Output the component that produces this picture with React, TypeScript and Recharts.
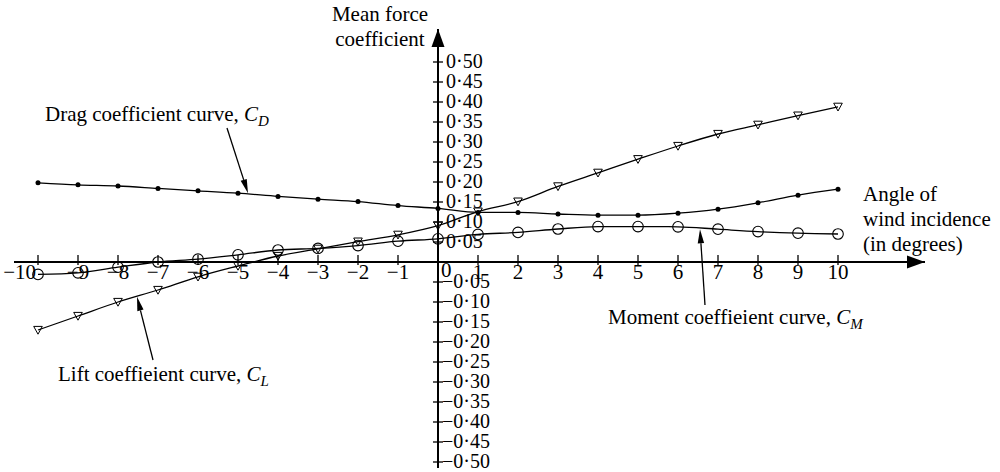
import React from 'react';
import { LineChart, Line, XAxis, YAxis, ReferenceLine, ReferenceDot } from 'recharts';

// angle of wind incidence, degrees
const angles = [-10, -9, -8, -7, -6, -5, -4, -3, -2, -1, 0, 1, 2, 3, 4, 5, 6, 7, 8, 9, 10];

// mean force coefficients at each angle
const dragCoef = [0.198, 0.193, 0.19, 0.184, 0.178, 0.172, 0.164, 0.157, 0.151, 0.141, 0.134, 0.124, 0.124, 0.12, 0.117, 0.117, 0.122, 0.132, 0.148, 0.167, 0.182];
const liftCoef = [-0.17, -0.135, -0.1, -0.07, -0.037, -0.01, 0.015, 0.033, 0.051, 0.068, 0.091, 0.126, 0.151, 0.189, 0.223, 0.257, 0.29, 0.32, 0.343, 0.366, 0.388];
const momentCoef = [-0.031, -0.027, -0.013, 0, 0.007, 0.018, 0.03, 0.034, 0.041, 0.052, 0.058, 0.069, 0.074, 0.0825, 0.0885, 0.0885, 0.088, 0.082, 0.076, 0.072, 0.07];

const xTicks = [-10, -9, -8, -7, -6, -5, -4, -3, -2, -1, 1, 2, 3, 4, 5, 6, 7, 8, 9, 10];
const xTickLabels = ['\u221210', '\u22129', '\u22128', '\u22127', '\u22126', '\u22125', '\u22124', '\u22123', '\u22122', '\u22121', '1', '2', '3', '4', '5', '6', '7', '8', '9', '10'];
const yTicks = [0.5, 0.45, 0.4, 0.35, 0.3, 0.25, 0.2, 0.15, 0.1, 0.05, -0.05, -0.1, -0.15, -0.2, -0.25, -0.3, -0.35, -0.4, -0.45, -0.5];
const yTickLabels = ['0·50', '0·45', '0·40', '0·35', '0·30', '0·25', '0·20', '0·15', '0·10', '0·05', '\u22120·05', '\u22120·10', '\u22120·15', '\u22120·20', '\u22120·25', '\u22120·30', '\u22120·35', '\u22120·40', '\u22120·45', '\u22120·50'];

const X_DOMAIN: [number, number] = [-10.6, 12.175];
const Y_DOMAIN: [number, number] = [-0.515, 0.5825];

const FONT = '"Liberation Serif", "Times New Roman", serif';
const FS = 21;
const TICK_FS = 20;

const data = angles.map((a, i) => ({
  angle: a,
  drag: dragCoef[i],
  lift: liftCoef[i],
  moment: momentCoef[i],
}));

const DragDot = (p: any) => <circle key={`d-${p.index}`} cx={p.cx} cy={p.cy} r={2.5} fill="#000" />;
const MomentDot = (p: any) => (
  <circle key={`m-${p.index}`} cx={p.cx} cy={p.cy} r={5.3} fill="none" stroke="#000" strokeWidth={1.1} />
);
const LiftDot = (p: any) => (
  <polygon
    key={`l-${p.index}`}
    points={`${p.cx - 4.3},${p.cy - 3.6} ${p.cx + 4.3},${p.cy - 3.6} ${p.cx},${p.cy + 4.2}`}
    fill="none"
    stroke="#000"
    strokeWidth={1}
  />
);

// leader line with a narrow filled head at the second point
const ArrowLine = (props: any) => {
  const { x1, y1, x2, y2 } = props;
  const ang = Math.atan2(y2 - y1, x2 - x1);
  const len = 14;
  const half = 3.2;
  const bx = x2 - len * Math.cos(ang);
  const by = y2 - len * Math.sin(ang);
  const px = -Math.sin(ang) * half;
  const py = Math.cos(ang) * half;
  return (
    <g>
      <line x1={x1} y1={y1} x2={bx} y2={by} stroke="#000" strokeWidth={1.3} />
      <polygon points={`${x2},${y2} ${bx + px},${by + py} ${bx - px},${by - py}`} fill="#000" />
    </g>
  );
};

const TextAt = (text: React.ReactNode, anchor: 'start' | 'middle' | 'end' = 'start') => (p: any) => (
  <text x={p.cx} y={p.cy} textAnchor={anchor} fontFamily={FONT} fontSize={FS} fill="#000">
    {text}
  </text>
);

const coeffName = (letter: string) => [
  <tspan key="c" fontStyle="italic">C</tspan>,
  <tspan key="s" fontStyle="italic" fontSize={15} dy={5}>{letter}</tspan>,
];

export default function App() {
  return (
    <div style={{ position: 'absolute', left: 0, top: 0, width: 1000, height: 472, background: '#fff' }}>
      <LineChart width={1000} height={472} data={data} margin={{ top: 29, right: 75, bottom: 4, left: 14 }}>
        <XAxis dataKey="angle" type="number" domain={X_DOMAIN} allowDataOverflow hide />
        <YAxis type="number" domain={Y_DOMAIN} allowDataOverflow hide />

        {/* axes through the origin */}
        <ReferenceLine y={0} stroke="#000" strokeWidth={2} ifOverflow="visible" />
        <ReferenceLine x={0} stroke="#000" strokeWidth={2} ifOverflow="visible" />
        <ReferenceDot
          x={X_DOMAIN[1]}
          y={0}
          ifOverflow="visible"
          shape={(p: any) => (
            <polygon points={`${p.cx},${p.cy} ${p.cx - 18},${p.cy - 6.5} ${p.cx - 18},${p.cy + 6.5}`} fill="#000" />
          )}
        />
        <ReferenceDot
          x={0}
          y={Y_DOMAIN[1]}
          ifOverflow="visible"
          shape={(p: any) => (
            <polygon points={`${p.cx},${p.cy} ${p.cx - 6.5},${p.cy + 18} ${p.cx + 6.5},${p.cy + 18}`} fill="#000" />
          )}
        />

        {xTicks.map((t, i) => (
          <ReferenceDot
            key={`xt-${t}`}
            x={t}
            y={0}
            ifOverflow="visible"
            shape={(p: any) => (
              <g>
                <line x1={p.cx} y1={p.cy - 7} x2={p.cx} y2={p.cy + 3} stroke="#000" strokeWidth={1.3} />
                <text
                  x={i === 0 ? p.cx - 2 : p.cx}
                  y={p.cy + 17}
                  textAnchor={i === 0 ? 'end' : 'middle'}
                  fontFamily={FONT}
                  fontSize={FS}
                  fill="#000"
                >
                  {xTickLabels[i]}
                </text>
              </g>
            )}
          />
        ))}
        <ReferenceDot
          x={0}
          y={0}
          ifOverflow="visible"
          shape={(p: any) => (
            <text x={p.cx + 3} y={p.cy + 15} fontFamily={FONT} fontSize={FS} fill="#000">0</text>
          )}
        />
        {yTicks.map((t, i) => (
          <ReferenceDot
            key={`yt-${t}`}
            x={0}
            y={t}
            ifOverflow="visible"
            shape={(p: any) => (
              <g>
                <line x1={p.cx - 5} y1={p.cy} x2={p.cx + 5} y2={p.cy} stroke="#000" strokeWidth={1.3} />
                <text x={p.cx + (t > 0 ? 8 : 4)} y={p.cy + 5.5} fontFamily={FONT} fontSize={TICK_FS} fill="#000">
                  {yTickLabels[i]}
                </text>
              </g>
            )}
          />
        ))}

        <Line type="monotone" dataKey="drag" stroke="#000" strokeWidth={1.3} dot={DragDot} activeDot={false} isAnimationActive={false} />
        <Line type="monotone" dataKey="lift" stroke="#000" strokeWidth={1.3} dot={LiftDot} activeDot={false} isAnimationActive={false} />
        <Line type="monotone" dataKey="moment" stroke="#000" strokeWidth={1.3} dot={MomentDot} activeDot={false} isAnimationActive={false} />

        {/* curve callouts */}
        <ReferenceLine segment={[{ x: -5.275, y: 0.335 }, { x: -4.75, y: 0.172 }]} ifOverflow="visible" shape={ArrowLine} />
        <ReferenceLine segment={[{ x: -7.125, y: -0.245 }, { x: -7.525, y: -0.087 }]} ifOverflow="visible" shape={ArrowLine} />
        <ReferenceLine segment={[{ x: 6.675, y: -0.1075 }, { x: 6.55, y: 0.082 }]} ifOverflow="visible" shape={ArrowLine} />

        <ReferenceDot x={-9.825} y={0.3525} ifOverflow="visible" shape={TextAt(['Drag coefficient curve, ', ...coeffName('D')])} />
        <ReferenceDot x={-9.5} y={-0.2975} ifOverflow="visible" shape={TextAt(['Lift coeffieient curve, ', ...coeffName('L')])} />
        <ReferenceDot x={4.25} y={-0.155} ifOverflow="visible" shape={TextAt(['Moment coeffieient curve, ', ...coeffName('M')])} />

        <ReferenceDot x={-1.45} y={0.6025} ifOverflow="visible" shape={TextAt('Mean force', 'middle')} />
        <ReferenceDot x={-1.45} y={0.54} ifOverflow="visible" shape={TextAt('coefficient', 'middle')} />

        <ReferenceDot x={10.625} y={0.1525} ifOverflow="visible" shape={TextAt('Angle of')} />
        <ReferenceDot x={10.625} y={0.09} ifOverflow="visible" shape={TextAt('wind incidence')} />
        <ReferenceDot x={10.625} y={0.0275} ifOverflow="visible" shape={TextAt('(in degrees)')} />
      </LineChart>
    </div>
  );
}
